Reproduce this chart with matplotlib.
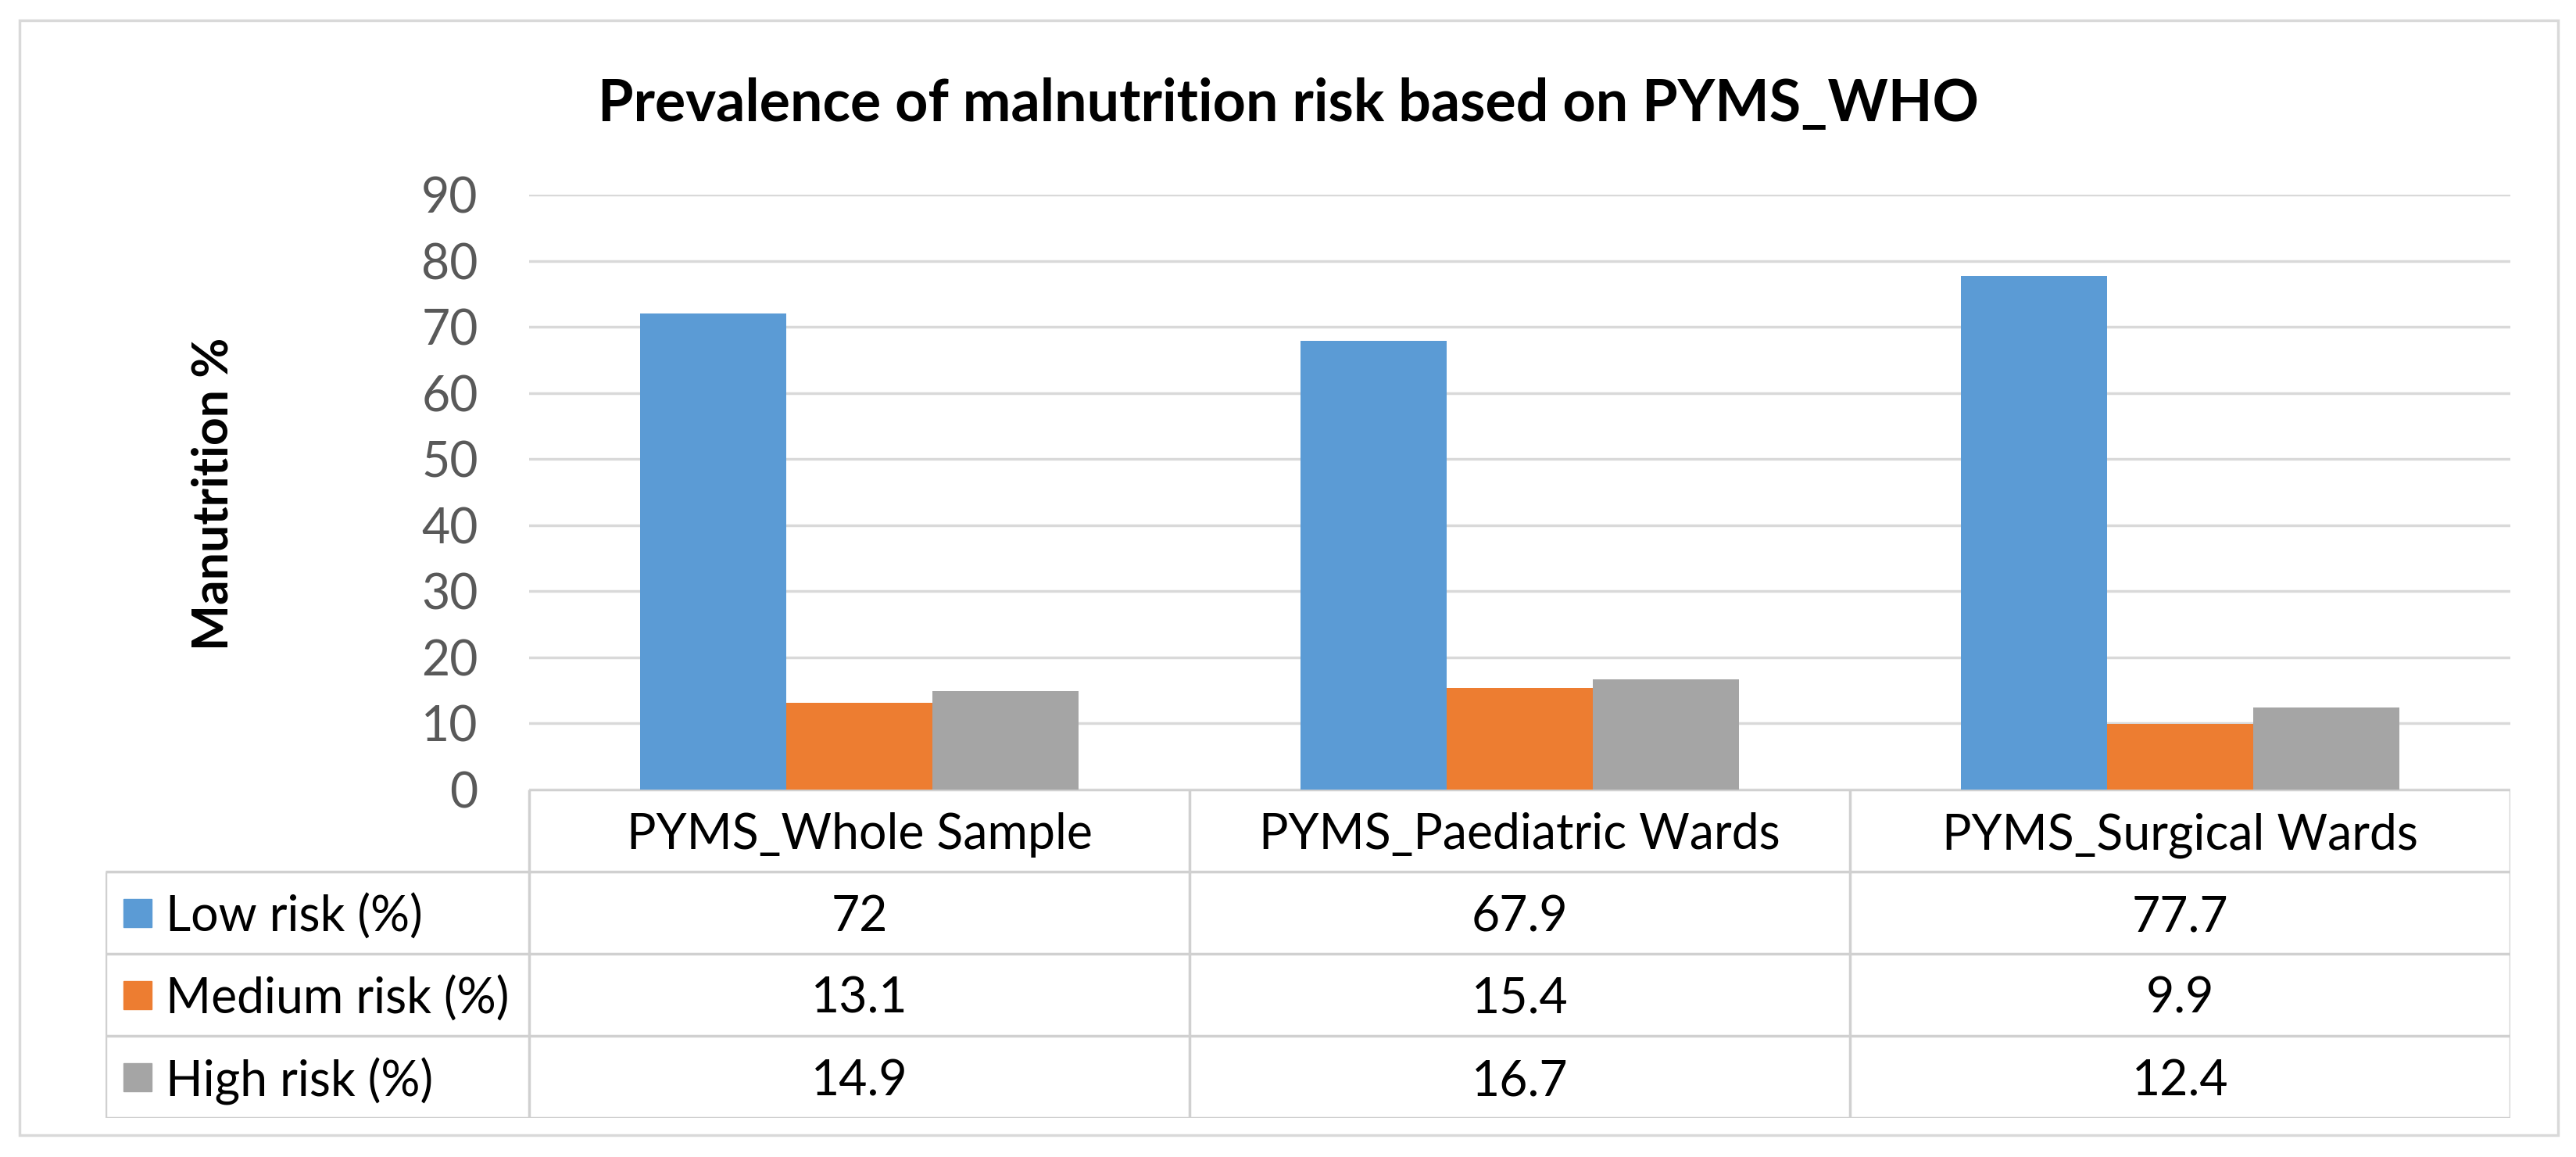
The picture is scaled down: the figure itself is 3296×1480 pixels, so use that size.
import matplotlib
matplotlib.use('Agg')
import matplotlib.pyplot as plt
from matplotlib.patches import Rectangle
import numpy as np

plt.rcParams['font.family'] = ['Lato', 'DejaVu Sans']

# data
categories = ['PYMS_Whole Sample', 'PYMS_Paediatric Wards', 'PYMS_Surgical Wards']
series_names = ['Low risk (%)', 'Medium risk (%)', 'High risk (%)']
low_risk = [72, 67.9, 77.7]
medium_risk = [13.1, 15.4, 9.9]
high_risk = [14.9, 16.7, 12.4]
yticks = [0, 10, 20, 30, 40, 50, 60, 70, 80, 90]

series = [low_risk, medium_risk, high_risk]
colors = ['#5B9BD5', '#ED7D31', '#A5A5A5']
grid_col = '#D9D9D9'
line_col = '#D0D0D0'

W, H = 3296, 1480
fig = plt.figure(figsize=(W / 100, H / 100), dpi=100)

# outer frame
fig.patches.append(Rectangle((25 / W, 1 - 1452 / H), (3273 - 25) / W, (1452 - 26) / H,
                             transform=fig.transFigure, fill=False,
                             edgecolor=grid_col, linewidth=2.5))

# bar area (pixel box 677..3212 x 249..1010)
ax = fig.add_axes([677 / W, 1 - 1010 / H, (3212 - 677) / W, (1010 - 249) / H])
x = np.arange(len(categories))
bw = 0.221
for i, vals in enumerate(series):
    ax.bar(x + (i - 1) * bw, vals, width=bw, color=colors[i], zorder=3)
ax.set_xlim(-0.5, 2.5)
ax.set_ylim(0, 90)
ax.set_yticks(yticks)
ax.set_xticks([])
ax.yaxis.grid(True, color=grid_col, linewidth=2.5, zorder=0)
ax.tick_params(axis='y', length=0, pad=47, labelsize=45, labelcolor='#595959')
for s in ax.spines.values():
    s.set_visible(False)

fig.text(1648 / W, 1 - 155 / H, 'Prevalence of malnutrition risk based on PYMS_WHO',
         ha='center', va='baseline', fontsize=53, fontweight='bold')
fig.text(292 / W, 1 - 632 / H, 'Manutrition %', rotation=90, rotation_mode='anchor',
         ha='center', va='baseline', fontsize=45, fontweight='bold')

# data table below the bars (pixel box 135..3212 x 1010..1430)
x0 = -0.5 - (677 - 135) / 845
tx = fig.add_axes([135 / W, 1 - 1430 / H, (3212 - 135) / W, (1430 - 1010) / H])
tx.set_xlim(x0, 2.5)
tx.set_ylim(4, 0)
tx.axis('off')
tx.hlines(0, -0.5, 2.5, color=line_col, linewidth=2.5)
tx.hlines([1, 2, 3, 4], x0, 2.5, color=line_col, linewidth=2.5)
tx.vlines([-0.5, 0.5, 1.5, 2.5], 0, 4, color=line_col, linewidth=2.5)
tx.vlines(x0, 1, 4, color=line_col, linewidth=2.5)

for i, cat in enumerate(categories):
    tx.text(i, 0.5, cat, ha='center', va='center_baseline', fontsize=45)
for r, (name, vals) in enumerate(zip(series_names, series)):
    yc = r + 1.5
    tx.plot(x0 + 0.0485, yc, marker='s', markersize=26, color=colors[r], linestyle='none')
    tx.text(x0 + 0.091, yc, name, ha='left', va='center_baseline', fontsize=45)
    for i, v in enumerate(vals):
        tx.text(i, yc, f'{v:g}', ha='center', va='center_baseline', fontsize=45)

fig.savefig('out.png', dpi=100)
